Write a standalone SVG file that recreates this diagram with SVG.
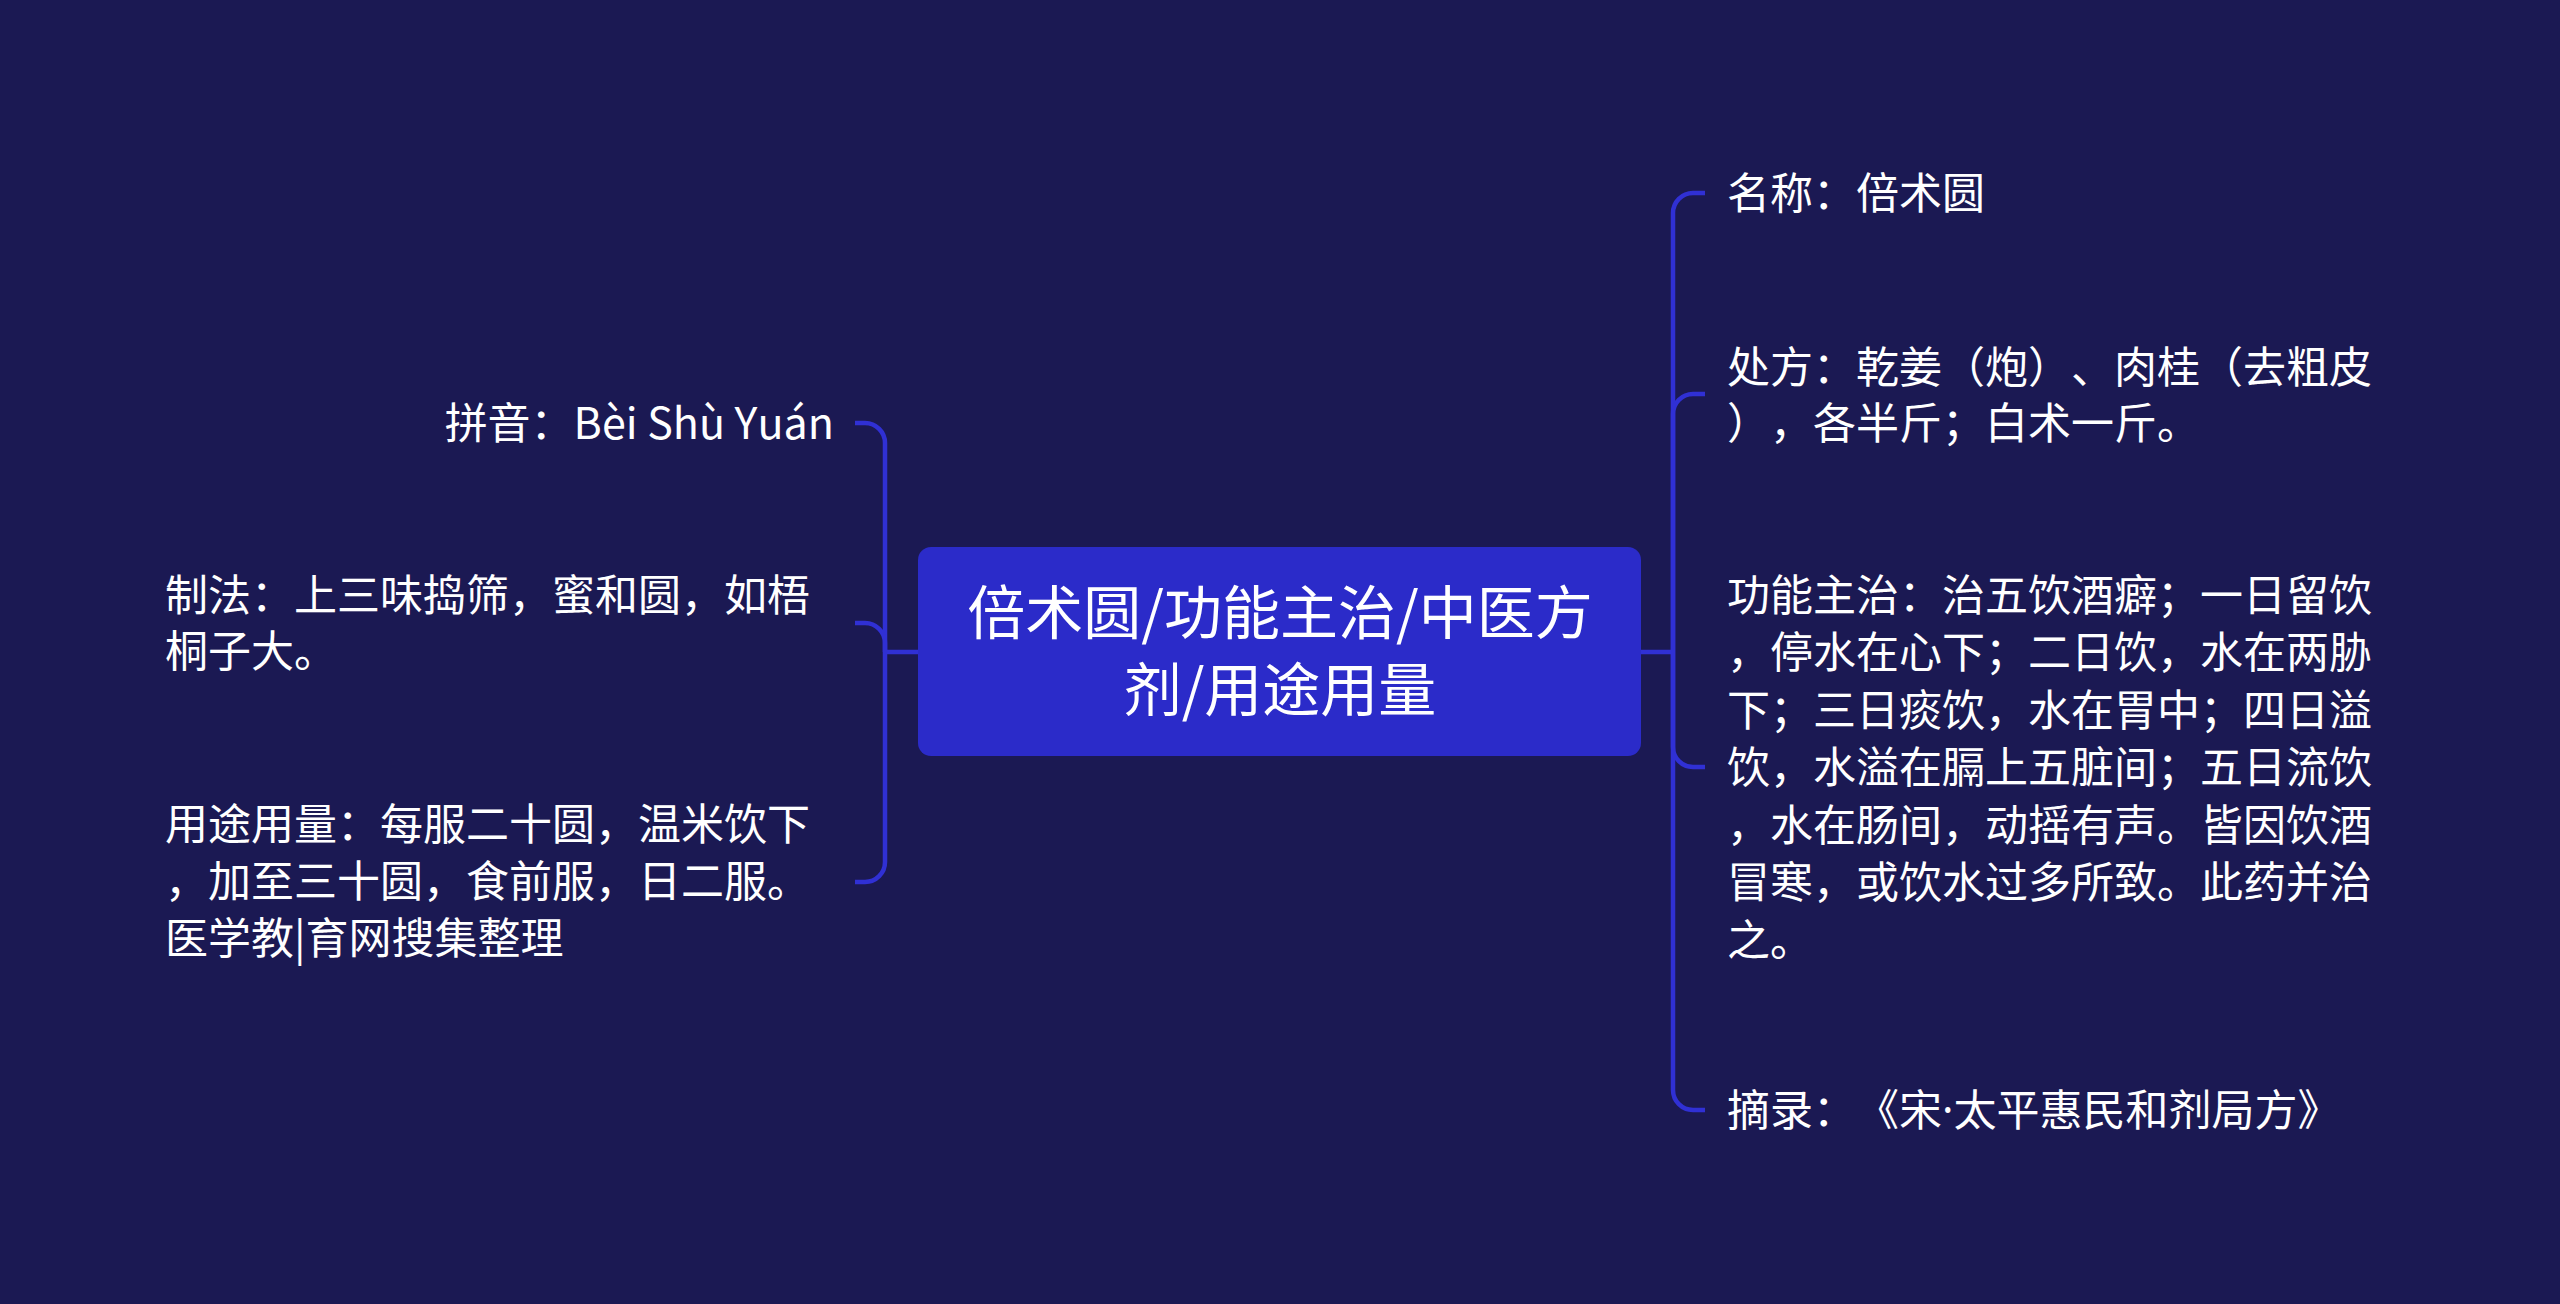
<svg xmlns="http://www.w3.org/2000/svg" width="2560" height="1304" viewBox="0 0 2560 1304">
<style>
text{text-spacing-trim:space-all;font-kerning:none}
.bg{fill:#1b1953}
.conn{fill:none;stroke:#3030d4;stroke-width:4.5;stroke-linecap:butt}
.root{fill:#2b2bc9}
.rt{font-family:"Noto Sans CJK SC","Noto Sans",sans-serif;font-size:58px;fill:#ffffff;text-anchor:middle}
.t{font-family:"Noto Sans CJK SC","Noto Sans",sans-serif;font-size:43px;fill:#ffffff}
.end{text-anchor:end}
.dot{font-family:"Noto Sans","Liberation Sans",sans-serif}
</style>
<rect class="bg" x="0" y="0" width="2560" height="1304"/>
<g id="connectors">
<path class="conn" d="M1641,652 H1673"/>
<path class="conn" d="M1673,652 V213 A20,20 0 0 1 1693,193 H1705"/>
<path class="conn" d="M1673,652 V414 A20,20 0 0 1 1693,394 H1705"/>
<path class="conn" d="M1673,652 V747 A20,20 0 0 0 1693,767 H1705"/>
<path class="conn" d="M1673,652 V1090 A20,20 0 0 0 1693,1110 H1705"/>
<path class="conn" d="M918,652 H885"/>
<path class="conn" d="M885,652 V443 A20,20 0 0 0 865,423 H855"/>
<path class="conn" d="M885,652 V643 A20,20 0 0 0 865,623 H855"/>
<path class="conn" d="M885,652 V862 A20,20 0 0 1 865,882 H855"/>
</g>
<g id="root">
<rect class="root" x="918" y="547" width="723" height="209" rx="13" ry="13"/>
<text class="rt" x="1280" y="634">倍术圆/功能主治/中医方</text>
<text class="rt" x="1280" y="711">剂/用途用量</text>
</g>
<g id="name">
<text class="t" x="1727" y="209">名称：倍术圆</text>
</g>
<g id="recipe">
<text class="t" x="1727" y="383">处方：乾姜（炮）、肉桂（去粗皮</text>
<text class="t" x="1727" y="439">），各半斤；白术一斤。</text>
</g>
<g id="function">
<text class="t" x="1727" y="611">功能主治：治五饮酒癖；一日留饮</text>
<text class="t" x="1727" y="668">，停水在心下；二日饮，水在两胁</text>
<text class="t" x="1727" y="726">下；三日痰饮，水在胃中；四日溢</text>
<text class="t" x="1727" y="783">饮，水溢在膈上五脏间；五日流饮</text>
<text class="t" x="1727" y="841">，水在肠间，动摇有声。皆因饮酒</text>
<text class="t" x="1727" y="898">冒寒，或饮水过多所致。此药并治</text>
<text class="t" x="1727" y="956">之。</text>
</g>
<g id="source">
<text class="t" x="1727" y="1126">摘录：《宋<tspan class="dot">·</tspan>太平惠民和剂局方》</text>
</g>
<g id="pinyin">
<text class="t end" x="834" y="439">拼音：Bèi Shù Yuán</text>
</g>
<g id="method">
<text class="t" x="165" y="611">制法：上三味捣筛，蜜和圆，如梧</text>
<text class="t" x="165" y="667">桐子大。</text>
</g>
<g id="usage">
<text class="t" x="165" y="840">用途用量：每服二十圆，温米饮下</text>
<text class="t" x="165" y="897">，加至三十圆，食前服，日二服。</text>
<text class="t" x="165" y="954">医学教|育网搜集整理</text>
</g>
</svg>
